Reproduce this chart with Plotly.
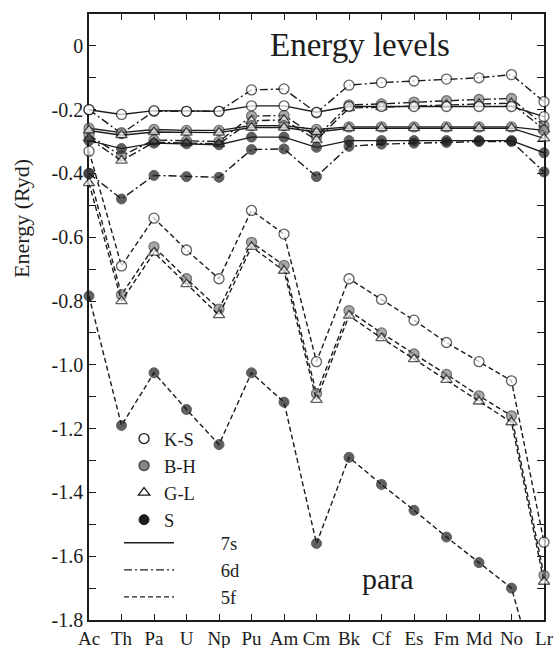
import plotly.graph_objects as go

# ---------------- data ----------------
elements = ["Ac", "Th", "Pa", "U", "Np", "Pu", "Am", "Cm", "Bk", "Cf", "Es", "Fm", "Md", "No", "Lr"]

# 7s levels (Ryd)
ks_7s = [-0.200, -0.215, -0.203, -0.205, -0.205, -0.188, -0.188, -0.208, -0.190, -0.190, -0.190, -0.190, -0.190, -0.190, -0.222]
bh_7s = [-0.258, -0.272, -0.262, -0.265, -0.265, -0.250, -0.250, -0.262, -0.254, -0.254, -0.254, -0.254, -0.254, -0.254, -0.265]
gl_7s = [-0.265, -0.280, -0.270, -0.272, -0.272, -0.256, -0.256, -0.270, -0.258, -0.258, -0.258, -0.258, -0.258, -0.258, -0.290]
s_7s = [-0.297, -0.322, -0.305, -0.307, -0.310, -0.286, -0.286, -0.318, -0.297, -0.297, -0.297, -0.297, -0.297, -0.297, -0.335]

# 6d levels (Ryd)
ks_6d = [-0.200, -0.275, -0.205, -0.205, -0.205, -0.138, -0.135, -0.210, -0.123, -0.115, -0.110, -0.104, -0.100, -0.090, -0.175]
bh_6d = [-0.280, -0.345, -0.295, -0.298, -0.300, -0.220, -0.218, -0.285, -0.185, -0.182, -0.176, -0.172, -0.168, -0.165, -0.250]
gl_6d = [-0.290, -0.360, -0.302, -0.305, -0.307, -0.235, -0.232, -0.295, -0.195, -0.192, -0.188, -0.185, -0.182, -0.180, -0.262]
s_6d = [-0.400, -0.480, -0.406, -0.410, -0.412, -0.325, -0.323, -0.410, -0.315, -0.308, -0.305, -0.303, -0.300, -0.300, -0.395]

# 5f levels (Ryd)
ks_5f = [-0.330, -0.690, -0.540, -0.640, -0.730, -0.516, -0.590, -0.990, -0.730, -0.795, -0.860, -0.930, -0.990, -1.050, -1.556]
bh_5f = [-0.400, -0.780, -0.630, -0.730, -0.825, -0.616, -0.688, -1.090, -0.830, -0.900, -0.966, -1.030, -1.097, -1.160, -1.660]
gl_5f = [-0.430, -0.800, -0.648, -0.747, -0.844, -0.630, -0.705, -1.110, -0.846, -0.916, -0.982, -1.047, -1.115, -1.180, -1.680]
s_5f = [-0.784, -1.190, -1.025, -1.140, -1.250, -1.025, -1.117, -1.560, -1.290, -1.375, -1.456, -1.540, -1.620, -1.700, -2.060]

methods = ["K-S", "B-H", "G-L", "S"]
orbitals = ["7s", "6d", "5f"]

Y_MIN, Y_MAX = -1.8, 0.1
# tick marks every 0.1 Ryd, labels every 0.2 Ryd
y_tick_marks = [-1.8, -1.7, -1.6, -1.5, -1.4, -1.3, -1.2, -1.1, -1.0, -0.9,
                -0.8, -0.7, -0.6, -0.5, -0.4, -0.3, -0.2, -0.1, 0.0]
y_labelled = [-1.8, -1.6, -1.4, -1.2, -1.0, -0.8, -0.6, -0.4, -0.2, 0.0]

# ---------------- styles ----------------
FONT = "Liberation Serif"
INK = "#1c1c1c"
marker_style = {
    "K-S": dict(symbol="circle", color="white", line=dict(color=INK, width=1.3)),
    "B-H": dict(symbol="circle", color="#858585", line=dict(color="#3a3a3a", width=1.3)),
    "G-L": dict(symbol="triangle-up", color="white", line=dict(color=INK, width=1.3)),
    "S": dict(symbol="circle", color=INK, line=dict(color=INK, width=1.0)),
}
dash_style = {"7s": "solid", "6d": "8px,3px,2px,3px", "5f": "5px,3px"}
MSIZE = 10

series = {
    ("K-S", "7s"): ks_7s, ("B-H", "7s"): bh_7s, ("G-L", "7s"): gl_7s, ("S", "7s"): s_7s,
    ("K-S", "6d"): ks_6d, ("B-H", "6d"): bh_6d, ("G-L", "6d"): gl_6d, ("S", "6d"): s_6d,
    ("K-S", "5f"): ks_5f, ("B-H", "5f"): bh_5f, ("G-L", "5f"): gl_5f, ("S", "5f"): s_5f,
}

fig = go.Figure()

for orb in ["5f", "6d", "7s"]:
    for m in methods:
        vals = series[(m, orb)]
        ms = marker_style[m]
        sizes = [MSIZE if Y_MIN <= v <= Y_MAX else 0 for v in vals]
        fig.add_trace(go.Scatter(
            x=elements, y=vals, mode="lines+markers",
            line=dict(color=INK, width=1.4, dash=dash_style[orb]),
            marker=dict(symbol=ms["symbol"], color=ms["color"], line=ms["line"], size=sizes),
            cliponaxis=False, showlegend=False, hoverinfo="skip",
        ))

# legend entries: methods (markers)
for m in methods:
    ms = marker_style[m]
    fig.add_trace(go.Scatter(
        x=[None], y=[None], mode="markers", name=m, legend="legend",
        marker=dict(symbol=ms["symbol"], color=ms["color"], line=ms["line"], size=MSIZE),
    ))
# legend entries: orbitals (lines)
for orb in orbitals:
    fig.add_trace(go.Scatter(
        x=[None], y=[None], mode="lines", name="\u00a0" * 9 + orb, legend="legend2",
        line=dict(color=INK, width=1.4, dash=dash_style[orb]),
    ))

axis_common = dict(
    showline=True, linecolor=INK, linewidth=1.5, mirror="ticks",
    ticks="inside", tickcolor=INK, tickwidth=1.3, showgrid=False, zeroline=False,
    layer="below traces", automargin=False,
)


def fmt(v):
    if not any(abs(v - w) < 1e-9 for w in y_labelled):
        return ""
    return "0" if abs(v) < 1e-9 else f"{v:.1f}"


fig.update_layout(
    template="none",
    width=558, height=648,
    margin=dict(l=89, r=14, t=14, b=28, autoexpand=False),
    paper_bgcolor="white", plot_bgcolor="white",
    font=dict(family=FONT, color=INK),
    xaxis=dict(
        type="category", categoryorder="array", categoryarray=elements,
        range=[0, len(elements) - 1], ticklen=6,
        tickfont=dict(size=19, family=FONT, color=INK), **axis_common,
    ),
    yaxis=dict(
        range=[Y_MIN, Y_MAX], tickmode="array", tickvals=y_tick_marks,
        ticktext=[fmt(v) for v in y_tick_marks],
        ticklen=7, tickfont=dict(size=20, family=FONT, color=INK),
        **axis_common,
    ),
    legend=dict(
        x=0.077, y=0.33, xanchor="left", yanchor="top",
        bgcolor="rgba(0,0,0,0)", font=dict(size=18.5, family=FONT, color=INK),
        tracegroupgap=0, itemsizing="trace",
    ),
    legend2=dict(
        x=0.066, y=0.158, xanchor="left", yanchor="top",
        bgcolor="rgba(0,0,0,0)", font=dict(size=18.5, family=FONT, color=INK),
        itemwidth=50,
    ),
    annotations=[
        dict(text="Energy levels", x=0.596, y=0.949, xref="paper", yref="paper",
             xanchor="center", yanchor="middle",
             showarrow=False, font=dict(size=33, family=FONT, color=INK)),
        dict(text="para", x=0.657, y=0.069, xref="paper", yref="paper",
             xanchor="center", yanchor="middle",
             showarrow=False, font=dict(size=30, family=FONT, color=INK)),
        dict(text="Energy (Ryd)", x=-0.147, y=0.662, xref="paper", yref="paper",
             xanchor="center", yanchor="middle",
             textangle=-90, showarrow=False, font=dict(size=22, family=FONT, color=INK)),
    ],
)

fig.write_html("out.html")
